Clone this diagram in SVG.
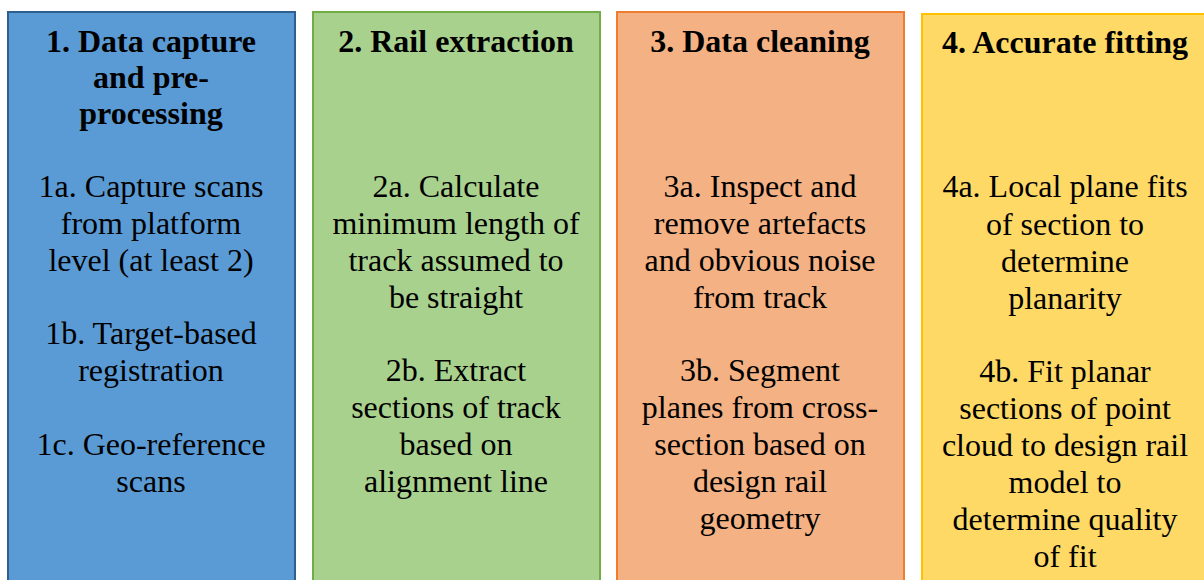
<svg xmlns="http://www.w3.org/2000/svg" width="1204" height="580" viewBox="0 0 1204 580">
<style>
rect{stroke-width:2}
text{font-family:"Liberation Serif","Times New Roman",serif;font-size:32px;fill:#000;text-anchor:middle}
.t{font-weight:bold}
</style>
<rect x="0" y="0" width="1204" height="580" fill="#fff" stroke="none"/>
<g id="node1">
<rect x="8" y="12" width="287" height="580" fill="#5b9bd5" stroke="#2f5f8f"/>
<text class="t" x="151" y="52">1. Data capture</text>
<text class="t" x="151" y="88">and pre-</text>
<text class="t" x="151" y="124">processing</text>
<text x="151" y="197">1a. Capture scans</text>
<text x="151" y="234">from platform</text>
<text x="151" y="271">level (at least 2)</text>
<text x="151" y="344">1b. Target-based</text>
<text x="151" y="381">registration</text>
<text x="151" y="455">1c. Geo-reference</text>
<text x="151" y="492">scans</text>
</g>
<g id="node2">
<rect x="313" y="12" width="287" height="580" fill="#a9d18e" stroke="#70ad47"/>
<text class="t" x="456" y="52">2. Rail extraction</text>
<text x="456" y="197">2a. Calculate</text>
<text x="456" y="234">minimum length of</text>
<text x="456" y="271">track assumed to</text>
<text x="456" y="308">be straight</text>
<text x="456" y="381">2b. Extract</text>
<text x="456" y="418">sections of track</text>
<text x="456" y="455">based on</text>
<text x="456" y="492">alignment line</text>
</g>
<g id="node3">
<rect x="617" y="12" width="287" height="580" fill="#f4b183" stroke="#ed7d31"/>
<text class="t" x="760" y="52">3. Data cleaning</text>
<text x="760" y="197">3a. Inspect and</text>
<text x="760" y="234">remove artefacts</text>
<text x="760" y="271">and obvious noise</text>
<text x="760" y="308">from track</text>
<text x="760" y="381">3b. Segment</text>
<text x="760" y="418">planes from cross-</text>
<text x="760" y="455">section based on</text>
<text x="760" y="492">design rail</text>
<text x="760" y="529">geometry</text>
</g>
<g id="node4">
<rect x="922" y="14" width="287" height="580" fill="#ffd966" stroke="#ffc000"/>
<text class="t" x="1065" y="53">4. Accurate fitting</text>
<text x="1065" y="197">4a. Local plane fits</text>
<text x="1065" y="235">of section to</text>
<text x="1065" y="272">determine</text>
<text x="1065" y="309">planarity</text>
<text x="1065" y="382">4b. Fit planar</text>
<text x="1065" y="419">sections of point</text>
<text x="1065" y="456">cloud to design rail</text>
<text x="1065" y="493">model to</text>
<text x="1065" y="530">determine quality</text>
<text x="1065" y="567">of fit</text>
</g>
<g id="connectors"></g>
</svg>
